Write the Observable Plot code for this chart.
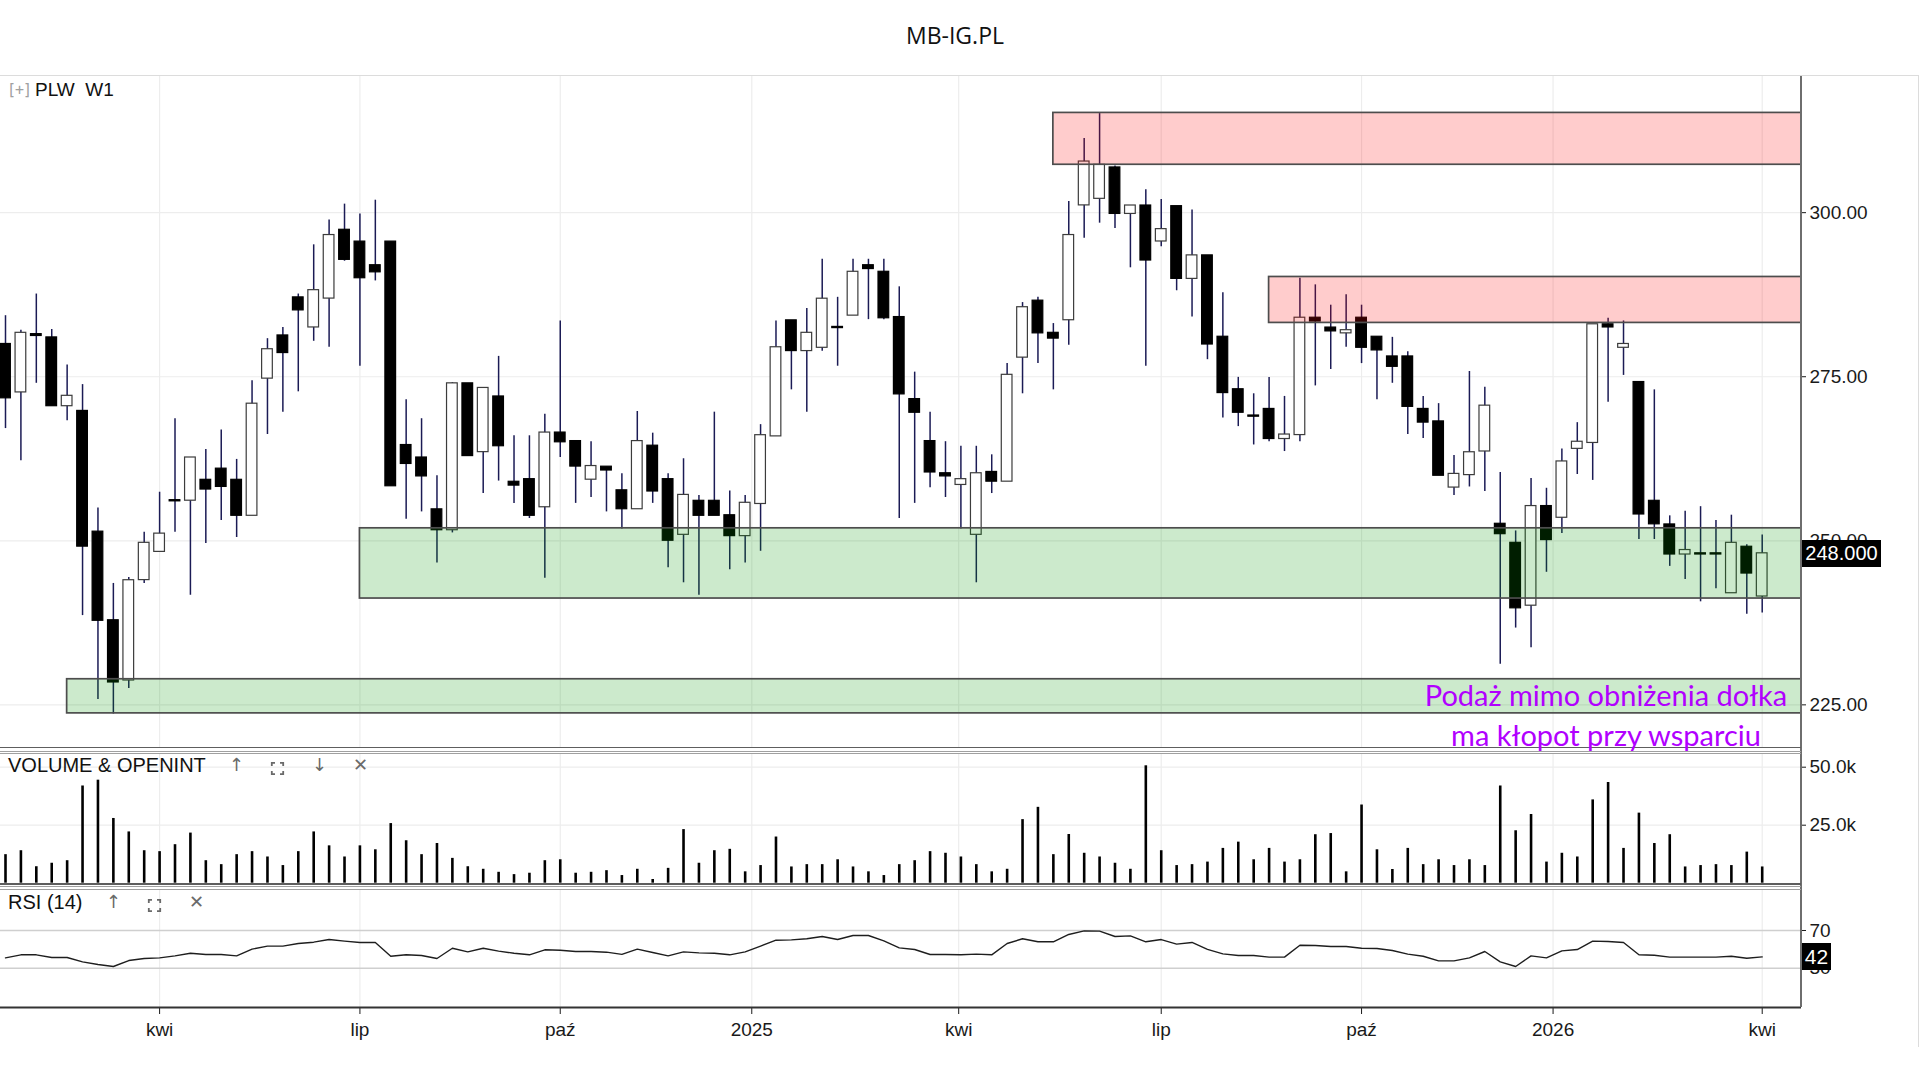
<!DOCTYPE html>
<html>
<head>
<meta charset="utf-8">
<script src="https://cdn.jsdelivr.net/npm/d3@7"></script>
<script src="https://cdn.jsdelivr.net/npm/@observablehq/plot@0.6"></script>
<style>
  html, body { margin: 0; padding: 0; background: #fff; }
  #root { position: relative; width: 1920px; height: 1080px; overflow: hidden; font-family: "Liberation Sans", Arial, sans-serif; color: #111; }
  .abs { position: absolute; }
  .line { position: absolute; left: 0; width: 1801px; }
  .icon { position: absolute; color: #6a6a6a; font-family: "DejaVu Sans", sans-serif; font-size: 18px; line-height: 20px; }
  svg { overflow: visible; }
</style>
</head>
<body>
<div id="root"></div>
<script>
// ---------------- DATA ----------------
const weekStart = "2024-01-22"; // first weekly candle

const open = [279.9,272.7,281.4,280.9,270.6,269.7,251.3,237.8,228.8,244.1,
  248.4,256.1,256.2,259.2,260.9,259.2,253.9,274.8,281.2,287.0,
  282.6,287.0,297.3,295.5,291.9,295.5,264.5,262.6,254.7,251.7,
  273.9,263.6,271.9,258.9,259.3,255.2,266.4,265.1,259.4,261.2,
  257.6,254.9,264.4,259.3,251.0,256.0,256.0,253.8,250.8,255.7,
  266.0,283.5,279.0,279.5,282.5,284.4,291.9,290.9,284.0,271.5,
  265.1,260.2,258.6,251.0,260.4,259.1,278.0,286.5,281.6,283.7,
  301.2,302.2,306.8,299.9,301.0,295.7,300.9,290.0,293.4,281.0,
  273.0,269.0,270.0,265.6,266.2,283.9,282.4,281.7,283.9,281.0,
  278.0,278.0,270.0,268.1,258.2,260.1,263.7,252.5,249.6,240.2,
  255.2,253.6,264.1,265.0,282.9,279.5,274.1,256.0,252.4,248.0,
  248.0,248.0,242.1,249.0,241.6];
const high = [284.3,282.1,287.6,282.2,276.8,273.8,255.0,243.5,244.4,251.3,
  257.4,268.6,262.6,263.9,266.9,262.4,274.4,280.8,282.5,287.6,
  295.1,298.9,301.3,299.8,301.9,295.5,271.5,268.6,259.9,274.1,
  273.9,273.2,278.1,266.0,266.0,269.3,283.5,265.1,265.1,261.2,
  260.2,269.7,266.4,260.2,262.5,256.9,269.6,257.6,256.9,267.7,
  283.5,283.5,285.4,292.9,287.1,292.9,292.9,292.9,288.7,275.7,
  269.6,265.1,264.4,264.4,263.1,277.0,286.3,287.1,283.1,301.7,
  311.3,315.1,307.1,301.0,303.5,302.0,300.9,300.4,293.4,287.8,
  274.9,272.4,274.9,272.0,290.0,289.0,285.9,287.5,285.9,281.0,
  281.0,278.8,272.0,270.9,263.0,275.8,273.4,260.4,251.5,259.5,
  258.0,264.0,268.0,282.9,283.9,283.5,274.1,273.0,253.8,254.5,
  255.2,253.1,253.9,249.4,250.9];
const low = [267.1,262.2,274.0,270.6,268.3,238.6,225.8,223.6,227.5,243.5,
  248.4,251.3,241.7,249.6,253.1,250.5,253.9,266.2,269.6,272.7,
  280.4,279.5,292.6,276.6,289.6,258.4,253.3,254.4,246.6,251.2,
  263.0,257.2,259.1,255.7,253.4,244.3,262.7,255.7,256.6,254.4,
  251.8,254.9,255.7,245.9,243.6,241.7,253.9,245.6,246.6,248.4,
  266.0,273.0,269.6,278.9,276.6,284.4,283.7,283.7,253.4,255.7,
  258.1,256.6,251.8,243.6,257.2,259.1,272.4,277.0,273.0,279.8,
  296.1,298.4,297.6,291.6,276.6,294.8,288.1,284.1,277.6,268.7,
  267.4,264.6,265.1,263.6,265.1,273.6,276.1,279.5,277.0,271.5,
  274.0,266.2,265.6,260.0,256.9,258.2,257.5,231.2,236.7,233.7,
  245.2,251.1,260.1,259.2,271.1,275.2,250.2,250.2,246.1,244.1,
  240.7,242.7,242.1,238.8,239.0];
const close = [271.8,281.6,281.3,270.6,272.0,249.2,237.9,228.5,243.9,249.6,
  251.0,256.1,262.6,257.9,258.3,253.9,270.8,279.1,278.7,285.2,
  288.1,296.5,292.9,290.1,291.0,258.4,261.8,259.9,251.7,273.9,
  263.0,273.2,264.5,258.5,253.9,266.4,265.1,261.4,261.3,260.8,
  254.9,265.1,257.6,250.1,256.9,253.9,253.9,250.8,255.7,266.0,
  279.4,279.0,281.6,286.8,282.5,290.9,291.5,284.0,272.4,269.6,
  260.5,259.9,259.3,260.2,259.1,275.2,285.5,281.7,280.9,296.5,
  307.7,307.2,299.9,301.0,292.8,297.4,290.0,293.4,280.0,272.6,
  269.6,269.0,265.6,266.1,283.9,283.5,282.0,282.0,279.5,279.1,
  276.6,270.5,268.1,260.0,260.1,263.4,270.5,251.1,239.8,255.2,
  250.2,262.0,265.0,282.9,282.6,279.9,254.1,252.6,248.0,248.5,
  248.0,248.0,249.6,245.1,248.0];
// volume in thousands
const volume = [12.3,14.0,7.1,8.6,9.7,41.9,44.4,27.9,22.1,14.0,
  13.6,16.6,21.6,9.7,8.0,12.3,13.6,11.3,7.6,13.6,
  22.1,16.1,11.3,16.1,14.4,25.7,18.3,12.3,17.1,10.7,
  7.1,6.0,4.7,3.7,4.3,9.7,10.1,4.3,4.7,5.4,
  3.3,6.0,1.6,6.4,23.1,8.6,14.0,14.6,4.9,7.6,
  19.9,7.0,8.0,8.0,10.1,7.0,4.9,3.3,8.0,9.7,
  13.6,12.9,11.3,8.0,4.9,6.0,27.4,32.7,12.3,21.0,
  12.9,11.3,8.6,6.0,50.6,14.0,7.6,8.0,9.1,15.0,
  17.7,10.1,15.0,9.1,10.1,20.9,21.4,4.9,33.7,14.4,
  5.9,15.0,8.0,10.1,7.6,10.1,7.6,41.9,22.6,29.6,
  9.1,12.9,11.3,35.9,43.4,15.0,30.2,17.1,20.9,7.0,
  7.6,8.0,7.6,13.4,7.0];
const rsi = [41.0,44.2,44.2,41.3,41.3,36.7,33.9,31.8,38.1,40.3,
  41.0,43.1,45.9,44.5,44.5,43.1,50.2,53.4,53.4,56.2,
  57.6,60.4,58.7,57.3,57.3,42.7,44.2,43.5,40.3,51.2,
  47.3,51.2,48.1,45.9,44.2,49.5,49.1,47.7,47.7,47.0,
  44.7,50.2,46.6,43.1,47.3,46.3,45.9,44.2,47.3,53.4,
  59.7,60.1,61.2,63.6,60.4,64.7,64.7,59.0,51.6,49.8,
  44.5,44.5,44.2,44.9,44.2,56.2,61.2,58.0,58.0,65.8,
  69.6,69.3,63.6,64.3,58.0,60.4,55.5,57.3,50.0,45.2,
  43.5,43.5,41.7,41.7,54.4,54.1,53.0,53.0,51.2,50.9,
  48.8,44.9,42.7,37.8,37.8,41.0,47.7,36.7,31.8,43.1,
  41.0,48.4,49.8,58.7,58.3,57.3,44.2,43.8,41.7,41.7,
  41.7,41.7,42.7,40.6,42.0];

// time-axis ticks and labels
const tickDates = ["2024-04-01","2024-07-01","2024-09-30","2024-12-26","2025-03-30","2025-06-30","2025-09-29","2025-12-25","2026-03-30"];
const tickLabels = ["kwi","lip","paź","2025","kwi","lip","paź","2026","kwi"];
const priceTicks = [225, 250, 275, 300];
const volumeTicks = [25, 50];
const rsiLevels = [30, 70];

// supply / demand zones
const zoneStart = ["2024-07-01","2024-02-19","2025-05-12","2025-08-18"];
const zoneLow   = [241.2, 223.7, 307.3, 283.2];
const zoneHigh  = [251.9, 228.9, 315.2, 290.2];
const zoneKind  = ["demand","demand","supply","supply"];

const title = "MB-IG.PL";
const symbolLabel = "PLW\u00a0\u00a0W1";
const noteLines = ["Podaż mimo obniżenia dołka", "ma kłopot przy wsparciu"];

// ---------------- BUILD ----------------
const DAY = 864e5;
const t0 = new Date(weekStart + "T00:00:00Z");
const bars = open.map((o, i) => ({
  date: new Date(+t0 + i * 7 * DAY),
  open: o, high: high[i], low: low[i], close: close[i],
  vol: volume[i], rsi: rsi[i]
}));
const last = bars[bars.length - 1];
const xDomain = [new Date(+bars[0].date - 0.3245 * 7 * DAY), new Date(+last.date + 2.55 * 7 * DAY)];
const ticks = tickDates.map(s => new Date(s + "T00:00:00Z"));
const labelFor = d => tickLabels[ticks.findIndex(t => +t === +d)] ?? "";
const halfBody = 2.43 * DAY;
const zones = zoneStart.map((s, i) => ({
  start: new Date(s + "T00:00:00Z"), end: xDomain[1],
  low: zoneLow[i], high: zoneHigh[i], kind: zoneKind[i]
}));

const W = 1920, RIGHT = 119; // plot area ends at x = 1801
const gridColor = "#ededed";
const wickColor = "#1b1b55";
const baseStyle = { fontFamily: "Liberation Sans, Arial, sans-serif", fontSize: "19px", color: "#1a1a1a", background: "transparent", overflow: "visible" };

const root = document.getElementById("root");
function place(node, top) {
  node.style.position = "absolute"; node.style.left = "0px"; node.style.top = top + "px";
  root.appendChild(node); return node;
}
function div(html, css) {
  const d = document.createElement("div");
  d.className = "abs"; d.innerHTML = html; d.style.cssText += css; root.appendChild(d); return d;
}

// ---- price panel ----
const PRICE_TOP = 76, PRICE_H = 671;
const pricePlot = Plot.plot({
  width: W, height: PRICE_H, marginLeft: 0, marginRight: RIGHT, marginTop: 0, marginBottom: 0,
  style: baseStyle,
  x: { type: "utc", domain: xDomain, axis: null },
  y: { domain: [218.5, 320.75], axis: "right", ticks: priceTicks, tickFormat: d3.format(".2f"), tickSize: 4, tickPadding: 4, label: null },
  marks: [
    Plot.ruleY(priceTicks, { stroke: gridColor, strokeWidth: 1.2 }),
    Plot.ruleX(ticks, { stroke: gridColor, strokeWidth: 1.2 }),
    Plot.ruleX(bars, { x: "date", y1: "low", y2: "high", stroke: wickColor, strokeWidth: 1.5 }),
    Plot.rect(bars, {
      x1: d => new Date(+d.date - halfBody), x2: d => new Date(+d.date + halfBody),
      y1: d => Math.min(d.open, d.close), y2: d => Math.max(d.open, d.close),
      fill: d => d.close > d.open ? "#ffffff" : "#000000",
      stroke: d => d.close > d.open ? "#3c3c3c" : "#000000",
      strokeWidth: 1.2, insetTop: -0.6, insetBottom: -0.6
    }),
    Plot.rect(zones, {
      x1: "start", x2: "end", y1: "low", y2: "high",
      fill: d => d.kind === "supply" ? "#ff0000" : "#009400", fillOpacity: 0.2,
      stroke: "#4d4d4d", strokeWidth: 1.7
    })
  ]
});
place(pricePlot, PRICE_TOP);

// ---- volume panel ----
const VOL_TOP = 753, VOL_H = 132;
const volPlot = Plot.plot({
  width: W, height: VOL_H, marginLeft: 0, marginRight: RIGHT, marginTop: 0, marginBottom: 2.3,
  style: baseStyle,
  x: { type: "utc", domain: xDomain, axis: null },
  y: { domain: [0, 55.9], axis: "right", ticks: volumeTicks, tickFormat: d => d.toFixed(1) + "k", tickSize: 4, tickPadding: 4, label: null },
  marks: [
    Plot.ruleY(volumeTicks, { stroke: gridColor, strokeWidth: 1.2 }),
    Plot.ruleX(ticks, { stroke: gridColor, strokeWidth: 1.2 }),
    Plot.ruleX(bars, { x: "date", y1: 0, y2: "vol", stroke: "#000", strokeWidth: 2.6 })
  ]
});
place(volPlot, VOL_TOP);

// ---- RSI panel with time axis ----
const RSI_TOP = 889, RSI_H = 118, AXIS_H = 50;
const rsiDomain = [-11.7, 113.5];
const rsiPlot = Plot.plot({
  width: W, height: RSI_H + AXIS_H, marginLeft: 0, marginRight: RIGHT, marginTop: 0, marginBottom: AXIS_H,
  style: baseStyle,
  x: { type: "utc", domain: xDomain, axis: "bottom", ticks: ticks, tickFormat: labelFor, tickSize: 7, tickPadding: 8, label: null },
  y: { domain: rsiDomain, axis: "right", ticks: rsiLevels, tickFormat: d => String(d), tickSize: 4, tickPadding: 4, label: null },
  marks: [
    Plot.ruleX(ticks, { stroke: gridColor, strokeWidth: 1.2 }),
    Plot.ruleY(rsiLevels, { stroke: "#cfcfcf", strokeWidth: 1.6 }),
    Plot.line(bars, { x: "date", y: "rsi", stroke: "#1e1e1e", strokeWidth: 1.4 }),
    Plot.ruleY([rsiDomain[0]], { stroke: "#333", strokeWidth: 2.2 })
  ]
});
place(rsiPlot, RSI_TOP);

// ---- frame & separators ----
div("", "left:0;top:75px;width:1918px;height:1px;background:#dcdcdc;");
div("", "left:1918px;top:75px;width:1px;height:972px;background:#dcdcdc;");
div("", "left:1800px;top:76px;width:2px;height:931px;background:#6e6e6e;");
[[746.5,1.6,"#5e5e5e"],[751,1,"#a0a0a0"],[753.3,1,"#a0a0a0"],[883.3,1.6,"#5e5e5e"],[886.4,1,"#a0a0a0"],[888.5,1,"#a0a0a0"]]
  .forEach(([t,h,c]) => { const d = div("", `top:${t}px;height:${h}px;background:${c};`); d.className = "line"; });

// ---- titles & labels ----
div(title, "left:0;top:19px;width:1910px;text-align:center;font-family:'Open Sans',sans-serif;font-size:23px;line-height:32px;color:#111;");
div("[+]", "left:7px;top:80px;font-family:'DejaVu Sans Mono',monospace;font-size:15px;line-height:20px;color:#a0a0a0;letter-spacing:-1px;");
div(symbolLabel, "left:35px;top:79px;font-size:19px;line-height:22px;white-space:pre;color:#111;");

const expandIcon = `<svg width="13" height="13" viewBox="0 0 13 13" style="overflow:visible"><path d="M0.8 4V0.8H4 M9 0.8H12.2V4 M12.2 9V12.2H9 M4 12.2H0.8V9" fill="none" stroke="#6a6a6a" stroke-width="1.8"/></svg>`;
div("VOLUME &amp; OPENINT", "left:8px;top:753px;font-size:20px;line-height:24px;color:#111;");
div("↑", "left:229px;top:755px;").className = "icon";
div(expandIcon, "left:271px;top:759px;").className = "icon";
div("↓", "left:312px;top:755px;").className = "icon";
div("✕", "left:353px;top:755px;").className = "icon";
div("RSI (14)", "left:8px;top:890px;font-size:20px;line-height:24px;color:#111;");
div("↑", "left:106px;top:892px;").className = "icon";
div(expandIcon, "left:148px;top:896px;").className = "icon";
div("✕", "left:189px;top:892px;").className = "icon";

// last price & last RSI boxes, placed via the plots' own scales
const yP = pricePlot.scale("y");
const yR = rsiPlot.scale("y");
const pTop = PRICE_TOP + yP.apply(last.close) - 13.5;
div(d3.format(".3f")(last.close), `left:1802px;top:${pTop}px;width:79px;height:27px;background:#000;color:#fff;font-size:20px;line-height:27px;text-align:center;`);
const rTop = RSI_TOP + yR.apply(last.rsi) - 13.5;
div(String(Math.round(last.rsi)), `left:1802px;top:${rTop}px;width:29px;height:27px;background:#000;color:#fff;font-size:21px;line-height:27px;text-align:center;`);

// annotation
div(noteLines.join("<br>"), "left:1356px;top:675px;width:500px;text-align:center;font-family:Lato,sans-serif;font-size:29px;line-height:40px;color:#b100ff;");
</script>
</body>
</html>
